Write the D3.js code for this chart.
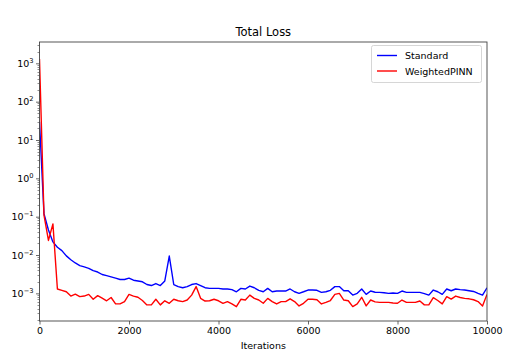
<!DOCTYPE html>
<html><head><meta charset="utf-8">
<script src="https://cdn.jsdelivr.net/npm/d3@7"></script>
<style>
html,body{margin:0;padding:0;background:#fff;}
text{font-family:"DejaVu Sans",sans-serif;fill:#000;}
</style></head>
<body>
<svg id="c" width="512" height="352"></svg>
<script>
const iterations = d3.range(0, 10001, 100);
const standard = [30,0.12,0.045,0.022,0.016,0.013,0.0095,0.0075,0.0062,0.0053,
0.0049,0.0045,0.0039,0.0036,0.0031,0.0029,0.0027,0.0025,0.0023,0.0023,
0.0025,0.0022,0.0021,0.002,0.0017,0.0016,0.0018,0.0016,0.0021,0.0094,
0.0017,0.0015,0.0014,0.0015,0.0017,0.0018,0.0016,0.0014,0.00135,0.00135,
0.00135,0.0013,0.0013,0.00125,0.0011,0.00135,0.0013,0.00155,0.0014,0.0012,
0.0011,0.00135,0.0011,0.00115,0.00115,0.00115,0.0013,0.0011,0.001,0.0011,
0.00122,0.00122,0.0012,0.00106,0.0011,0.0012,0.0015,0.0015,0.00117,0.00117,
0.0009,0.001,0.0013,0.00094,0.00115,0.00107,0.00106,0.00104,0.001,0.00102,
0.001,0.00115,0.00106,0.00106,0.00106,0.00106,0.00098,0.0009,0.00122,0.0011,
0.00094,0.0013,0.00117,0.0013,0.00125,0.00122,0.00117,0.00112,0.001,0.0009,
0.0014];
const weighted = [1300,0.11,0.024,0.065,0.0013,0.0012,0.0011,0.00085,0.00095,0.00082,
0.00085,0.00094,0.0007,0.00087,0.00075,0.00064,0.00078,0.00053,0.00053,0.00061,
0.00094,0.00085,0.00079,0.00065,0.0005,0.0005,0.0007,0.0005,0.00064,0.00055,
0.0007,0.00064,0.00061,0.00067,0.0009,0.0015,0.00074,0.00063,0.00064,0.0007,
0.00064,0.00055,0.00061,0.00053,0.00045,0.0007,0.00067,0.0009,0.00074,0.00067,
0.00055,0.00074,0.00061,0.00053,0.00061,0.00061,0.00072,0.00061,0.00047,0.00055,
0.0007,0.0007,0.00068,0.00053,0.00058,0.00065,0.00094,0.001,0.00067,0.00064,
0.00045,0.00053,0.00079,0.00047,0.00067,0.0006,0.00058,0.00058,0.00058,0.00056,
0.00055,0.00067,0.00058,0.00058,0.00058,0.00063,0.0005,0.0005,0.00077,0.00065,
0.00053,0.00082,0.00071,0.00085,0.00078,0.00074,0.00072,0.00068,0.00061,0.00047,
0.00094];
const xTicks = [0,2000,4000,6000,8000,10000];
const yExps = [-3,-2,-1,0,1,2,3];
const seriesNames = ["Standard","WeightedPINN"];
const seriesColors = ["#0000ff","#ff0000"];

const L=39.5, R=487, T=42, B=321;
const svg = d3.select("#c");
const x = d3.scaleLinear().domain([0,10000]).range([L,R]);
const y = d3.scaleLog().domain([1.9e-4, 3600]).range([B,T]);
const axisCol = "#444";

svg.append("clipPath").attr("id","clp").append("rect")
  .attr("x",L).attr("y",T).attr("width",R-L).attr("height",B-T);

// minor y ticks
const minor=[];
for(let e=-4;e<=3;e++) for(let m=2;m<=9;m++){const v=m*Math.pow(10,e); if(v>=1.9e-4&&v<=3600) minor.push(v);}
svg.append("g").selectAll("line").data(minor).join("line")
  .attr("x1",L-2).attr("x2",L).attr("y1",d=>Math.round(y(d))+0.5).attr("y2",d=>Math.round(y(d))+0.5)
  .attr("stroke",axisCol).attr("stroke-width",0.6);

// x axis
const xa = svg.append("g").attr("transform",`translate(0,${B})`)
  .call(d3.axisBottom(x).tickValues(xTicks).tickFormat(d3.format("d")).tickSize(3.5).tickPadding(2.5));
xa.select(".domain").remove();
xa.selectAll("text").attr("font-size","9.5px").attr("font-family","DejaVu Sans").attr("fill","#111");
xa.selectAll("line").attr("stroke",axisCol).attr("stroke-width",0.8);

// y axis
const ya = svg.append("g").attr("transform",`translate(${L},0)`)
  .call(d3.axisLeft(y).tickValues(yExps.map(e=>Math.pow(10,e))).tickFormat("").tickSize(3.5));
ya.select(".domain").remove();
ya.selectAll("line").attr("stroke",axisCol).attr("stroke-width",0.8);
const yl = svg.append("g").selectAll("text").data(yExps).join("text")
  .attr("x",L-6).attr("y",d=>y(Math.pow(10,d))+3.5).attr("text-anchor","end").attr("font-size","9.5px").attr("fill","#111");
yl.append("tspan").text("10");
yl.append("tspan").attr("dy","-4").attr("font-size","6.7px").text(d=>d<0?"\u2212"+(-d):String(d));

// lines
const line = d3.line().x((d,i)=>x(iterations[i])).y(d=>y(d));
const g = svg.append("g").attr("clip-path","url(#clp)");
[standard, weighted].forEach((s,k)=>{
  g.append("path").datum(s).attr("d",line).attr("fill","none")
   .attr("stroke",seriesColors[k]).attr("stroke-width",1.4).attr("stroke-linejoin","round");
});

// frame
svg.append("rect").attr("x",L).attr("y",T).attr("width",R-L).attr("height",B-T)
  .attr("fill","none").attr("stroke",axisCol).attr("stroke-width",0.9);

// title & label
svg.append("text").attr("x",(L+R)/2).attr("y",36).attr("text-anchor","middle").attr("font-size","11.5px").text("Total Loss");
svg.append("text").attr("x",(L+R)/2).attr("y",349).attr("text-anchor","middle").attr("font-size","9.5px").attr("fill","#111").text("Iterations");

// legend
const lg = svg.append("g");
lg.append("rect").attr("x",371.5).attr("y",45.5).attr("width",110).attr("height",37).attr("rx",2)
  .attr("fill","#fff").attr("fill-opacity",0.8).attr("stroke","#ccc").attr("stroke-width",0.8);
seriesNames.forEach((n,i)=>{
  const yy = 55.5 + i*15.5;
  lg.append("line").attr("x1",377).attr("x2",397).attr("y1",yy).attr("y2",yy).attr("stroke",seriesColors[i]).attr("stroke-width",1.4);
  lg.append("text").attr("x",405).attr("y",yy+3.5).attr("font-size","9.5px").text(n);
});
</script>
</body></html>
